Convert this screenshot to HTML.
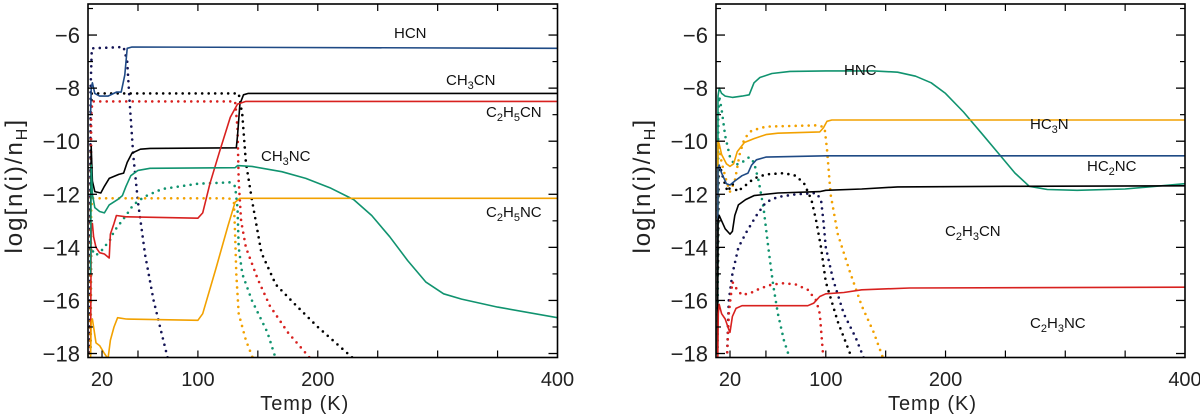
<!DOCTYPE html>
<html><head><meta charset="utf-8"><style>
html,body{margin:0;padding:0;background:#fff;}
svg{display:block;font-family:"Liberation Sans",sans-serif;}
</style></head><body>
<svg id="chart" width="1200" height="414" viewBox="0 0 1200 414" xmlns="http://www.w3.org/2000/svg"></svg>
<script>
const xTicksMajor = [20, 100, 200, 400];
const xTicksMinor = [50, 100, 150, 200, 250, 300, 350];
const yTicksMajor = [-6, -8, -10, -12, -14, -16, -18];
const yTicksMinor = [-5, -7, -9, -11, -13, -15, -17];

// Left panel series: [T, log n]
const hcnSolid = [[10.5,-9],[11,-8.0],[12,-7.8],[14,-8.2],[18,-8.3],[25,-8.3],[32,-8.15],[36,-8.15],[39,-7.5],[41,-6.5],[45,-6.45],[400,-6.5]];
const hcnDot = [[10,-18.2],[10.5,-8],[11.5,-6.5],[38,-6.45],[41,-7],[43,-8.5],[46,-10.5],[50,-12.3],[56,-14.3],[63,-16],[70,-17.3],[75,-18.2]];
const ch3cnSolid = [[10.5,-13],[11,-10.2],[12,-11.5],[14,-11.9],[19,-11.95],[22,-11.7],[26,-11.4],[34,-11.25],[38,-11.2],[41,-10.8],[45,-10.45],[52,-10.3],[60,-10.27],[132,-10.25],[133,-9.8],[135,-8.6],[138,-8.25],[142,-8.2],[400,-8.2]];
const ch3cnDot = [[10,-18],[10.7,-9],[11.5,-8.2],[134,-8.2],[137,-9],[140,-10.8],[145,-12.2],[153,-14.2],[165,-15.4],[180,-16.1],[200,-17],[230,-18.2]];
const c2h5cnSolid = [[10.5,-18],[11,-13.3],[12,-13.1],[13,-13.6],[15,-14],[18,-14.2],[22,-14.25],[26,-14.4],[27,-13.5],[30,-13.1],[32,-12.8],[40,-12.85],[100,-12.9],[104,-12.7],[110,-11.6],[118,-10.4],[127,-9.1],[133,-8.6],[140,-8.5],[400,-8.5]];
const c2h5cnDot = [[10.3,-18],[11,-9],[12,-8.5],[131,-8.5],[133,-9.5],[134,-11.5],[136,-13],[140,-14],[150,-15.2],[160,-16.2],[175,-17.2],[194,-18.2]];
const ch3ncSolid = [[10.5,-15],[11,-10.9],[12,-12],[14,-12.5],[18,-12.65],[22,-12.7],[26,-12.4],[33,-12.2],[37,-12.05],[40,-11.7],[44,-11.3],[50,-11.1],[60,-11.02],[131,-11],[133,-10.92],[145,-10.95],[170,-11.15],[190,-11.4],[210,-11.75],[230,-12.2],[245,-12.8],[260,-13.6],[275,-14.5],[290,-15.3],[305,-15.75],[320,-15.95],[350,-16.25],[400,-16.65]];
const ch3ncDot = [[10.5,-18],[11,-14],[13,-14.2],[15,-14.3],[20,-14.1],[27,-13.7],[30,-13.4],[40,-12.8],[46,-12.4],[55,-12.1],[70,-11.8],[100,-11.6],[127,-11.55],[131,-11.7],[133,-12.5],[134,-14],[137,-15],[145,-16],[158,-17.2],[165,-18.2]];
const c2h5ncSolid = [[10.5,-18.2],[11,-16.8],[12,-16.7],[13,-17],[15,-17.6],[18,-17.7],[22,-18],[25,-18.2],[27,-17.5],[30,-17],[33,-16.65],[40,-16.7],[100,-16.75],[104,-16.5],[115,-14.8],[125,-13.2],[131,-12.3],[135,-12.15],[400,-12.15]];
const c2h5ncDot = [[10.3,-18],[11,-12.5],[12,-12.15],[126,-12.15],[130,-12.3],[131,-13.5],[132,-15],[134,-16.5],[140,-17.5],[146,-18.2]];

// Right panel series
const hncSolid = [[9.6,-18],[10,-8.3],[11,-8.0],[13,-8.2],[16,-8.3],[22,-8.35],[30,-8.3],[36,-8.25],[40,-7.8],[45,-7.6],[55,-7.45],[70,-7.37],[100,-7.35],[140,-7.35],[160,-7.4],[175,-7.55],[188,-7.8],[200,-8.2],[215,-8.9],[230,-9.7],[245,-10.5],[258,-11.2],[270,-11.7],[285,-11.82],[310,-11.85],[350,-11.8],[400,-11.6]];
const hncDot = [[9.6,-18],[10.2,-9],[11,-8.3],[13,-8.8],[16,-9.8],[20,-10.6],[24,-10.9],[30,-10.8],[36,-10.6],[40,-10.8],[44,-11.5],[48,-12.5],[52,-14],[56,-15.4],[60,-16.5],[65,-17.5],[70,-18.2]];
const hc3nSolid = [[9.6,-18],[10,-10],[11,-10.1],[13,-10.5],[17,-10.85],[20,-10.95],[23,-10.85],[26,-10.4],[32,-10.05],[40,-9.9],[50,-9.75],[60,-9.7],[95,-9.65],[98,-9.5],[101,-9.25],[105,-9.2],[400,-9.2]];
const hc3nDot = [[10,-10],[13,-10.8],[17,-11.5],[20,-11.9],[24,-11.5],[28,-10.5],[32,-9.9],[38,-9.6],[50,-9.45],[93,-9.4],[97,-9.45],[99,-9.5],[101,-10.3],[104,-12],[110,-13.5],[120,-14.9],[130,-16.2],[140,-17.2],[148,-18.2]];
const hc2ncSolid = [[9.6,-18],[10,-11],[11,-10.9],[13,-11.2],[17,-11.6],[20,-11.65],[24,-11.5],[30,-11.3],[35,-11.2],[38,-10.9],[42,-10.7],[50,-10.6],[100,-10.55],[400,-10.55]];
const hc2ncDot = [[17.5,-18.2],[19,-16],[22,-15],[27,-14],[34,-13.4],[42,-12.8],[50,-12.3],[60,-12.1],[75,-12],[92,-11.95],[96,-12.2],[98,-13],[100,-14],[106,-15.2],[115,-16.5],[125,-17.4],[132,-18.2]];
const c2h3cnSolid = [[9.6,-18],[10,-13],[11,-12.8],[13,-13],[16,-13.3],[20,-13.5],[22,-13.4],[24,-12.8],[27,-12.4],[33,-12.2],[40,-12.05],[60,-11.95],[95,-11.9],[100,-11.85],[130,-11.8],[160,-11.72],[250,-11.7],[400,-11.68]];
const c2h3cnDot = [[10,-15],[10.5,-11],[12,-11],[15,-11.5],[18,-11.9],[22,-11.6],[26,-11.9],[32,-11.7],[40,-11.4],[50,-11.25],[65,-11.2],[75,-11.3],[82,-11.6],[88,-12.2],[92,-13],[96,-14],[100,-15.3],[110,-16.8],[122,-18.2]];
const c2h3ncSolid = [[9.8,-18.2],[10.2,-16.5],[11,-16.15],[13,-16.5],[16,-16.7],[19,-17.1],[20,-17.2],[22,-16.6],[25,-16.3],[30,-16.2],[60,-16.2],[85,-16.2],[90,-16.1],[95,-15.85],[100,-15.75],[115,-15.7],[130,-15.6],[170,-15.53],[400,-15.5]];
const c2h3ncDot = [[17.5,-18.2],[19,-16.5],[22,-15.3],[26,-15.6],[30,-15.8],[38,-15.7],[45,-15.55],[55,-15.4],[65,-15.35],[75,-15.4],[85,-15.6],[92,-16],[95,-16.5],[98,-18.2]];

const C = {navy:"#1f4a85", dnavy:"#141455", black:"#000", red:"#d8211f", green:"#10936f", orange:"#f2a100"};
const NS = "http://www.w3.org/2000/svg";
const svg = document.getElementById("chart");
const xMin = 8.3, xMax = 400, yMin = -18.15, yMax = -4.83;

function mk(tag, attrs, parent){
  const e = document.createElementNS(NS, tag);
  for (const k in attrs) e.setAttribute(k, attrs[k]);
  (parent||svg).appendChild(e);
  return e;
}

function panel(id, left, right, series, labels){
  const top = 4, bottom = 357.5;
  const sx = t => left + (t - xMin) / (xMax - xMin) * (right - left);
  const sy = v => bottom - (v - yMin) / (yMax - yMin) * (bottom - top);
  const g = mk("g", {});
  
  
  const cp = mk("clipPath", {id: id + "-clip"}, g);
  mk("rect", {x:left, y:top, width:right-left, height:bottom-top}, cp);
  const plot = mk("g", {"clip-path": "url(#" + id + "-clip)"}, g);
  series.forEach(s => {
    const d = s.data.map((p,i) => (i?"L":"M") + sx(p[0]).toFixed(1) + "," + sy(p[1]).toFixed(1)).join("");
    const p = mk("path", {d: d, fill: "none", stroke: s.color,
      "stroke-width": s.dot ? 2.6 : 1.6,
      "stroke-linecap": "round", "stroke-linejoin": "round"}, plot);
    if (s.dot) p.setAttribute("stroke-dasharray", "0 6.5");
    
    
  });
  const fr = mk("rect", {x:left, y:top, width:right-left, height:bottom-top, fill:"none", stroke:"#000", "stroke-width":1.6}, g);
  
  
  yTicksMajor.forEach(v => {
    const y = sy(v);
    mk("line", {x1:left, x2:left+9, y1:y, y2:y, stroke:"#000", "stroke-width":1.3}, g);
    mk("line", {x1:right, x2:right-9, y1:y, y2:y, stroke:"#000", "stroke-width":1.3}, g);
    const t = mk("text", {x:left-8, y:y+8, "text-anchor":"end", "font-size":22, fill:"#222"}, g);
    t.textContent = "\u2212" + Math.abs(v);
    
    
  });
  yTicksMinor.forEach(v => {
    const y = sy(v);
    mk("line", {x1:left, x2:left+5, y1:y, y2:y, stroke:"#000", "stroke-width":1.2}, g);
    mk("line", {x1:right, x2:right-5, y1:y, y2:y, stroke:"#000", "stroke-width":1.2}, g);
  });
  xTicksMinor.forEach(v => {
    const x = sx(v);
    mk("line", {x1:x, x2:x, y1:bottom, y2:bottom-7, stroke:"#000", "stroke-width":1.2}, g);
    mk("line", {x1:x, x2:x, y1:top, y2:top+7, stroke:"#000", "stroke-width":1.2}, g);
  });
  mk("line", {x1:sx(20), x2:sx(20), y1:bottom, y2:bottom-7, stroke:"#000", "stroke-width":1.2}, g);
  xTicksMajor.forEach(v => {
    const t = mk("text", {x:sx(v), y:386, "text-anchor":"middle", "font-size":20, fill:"#222"}, g);
    t.textContent = v;
    
    
  });
  const xt = mk("text", {x:(left+right)/2 - 18, y:410, "text-anchor":"middle", "font-size":20, "letter-spacing":1, fill:"#222"}, g);
  xt.textContent = "Temp (K)";
  
  
  const yt = mk("text", {x:0, y:0, "text-anchor":"middle", "font-size":24, "letter-spacing":2, fill:"#222",
    transform:"translate(" + (left-66) + "," + ((top+bottom)/2 + 5) + ") rotate(-90)"}, g);
  yt.innerHTML = 'log[n(i)/n<tspan font-size="16" dy="5">H</tspan><tspan dy="-5">]</tspan>';
  
  
  labels.forEach(l => {
    const t = mk("text", {x:l.x, y:l.y, "font-size":15, fill:"#111"}, g);
    t.innerHTML = l.html;
    
    
  });
}
const sub = s => '<tspan font-size="11" dy="4">' + s + '</tspan><tspan dy="-4">';

panel("left", 88, 557.5, [
  {name:"hcn-dotted", data:hcnDot, color:C.dnavy, dot:true},
  {name:"ch3cn-dotted", data:ch3cnDot, color:C.black, dot:true},
  {name:"c2h5cn-dotted", data:c2h5cnDot, color:C.red, dot:true},
  {name:"ch3nc-dotted", data:ch3ncDot, color:C.green, dot:true},
  {name:"c2h5nc-dotted", data:c2h5ncDot, color:C.orange, dot:true},
  {name:"hcn-line", data:hcnSolid, color:C.navy},
  {name:"ch3cn-line", data:ch3cnSolid, color:C.black},
  {name:"c2h5cn-line", data:c2h5cnSolid, color:C.red},
  {name:"ch3nc-line", data:ch3ncSolid, color:C.green},
  {name:"c2h5nc-line", data:c2h5ncSolid, color:C.orange}
], [
  {name:"hcn-label", x:394, y:38, html:"HCN"},
  {name:"ch3cn-label", x:446, y:85, html:"CH" + sub("3") + "CN</tspan>"},
  {name:"c2h5cn-label", x:486, y:117, html:"C" + sub("2") + "H</tspan>" + sub("5") + "CN</tspan>"},
  {name:"ch3nc-label", x:261, y:161, html:"CH" + sub("3") + "NC</tspan>"},
  {name:"c2h5nc-label", x:486, y:217, html:"C" + sub("2") + "H</tspan>" + sub("5") + "NC</tspan>"}
]);

panel("right", 716, 1185, [
  {name:"hnc-dotted", data:hncDot, color:C.green, dot:true},
  {name:"hc3n-dotted", data:hc3nDot, color:C.orange, dot:true},
  {name:"hc2nc-dotted", data:hc2ncDot, color:C.dnavy, dot:true},
  {name:"c2h3cn-dotted", data:c2h3cnDot, color:C.black, dot:true},
  {name:"c2h3nc-dotted", data:c2h3ncDot, color:C.red, dot:true},
  {name:"hnc-line", data:hncSolid, color:C.green},
  {name:"hc3n-line", data:hc3nSolid, color:C.orange},
  {name:"hc2nc-line", data:hc2ncSolid, color:C.navy},
  {name:"c2h3cn-line", data:c2h3cnSolid, color:C.black},
  {name:"c2h3nc-line", data:c2h3ncSolid, color:C.red}
], [
  {name:"hnc-label", x:844, y:75, html:"HNC"},
  {name:"hc3n-label", x:1030, y:129, html:"HC" + sub("3") + "N</tspan>"},
  {name:"hc2nc-label", x:1087, y:171, html:"HC" + sub("2") + "NC</tspan>"},
  {name:"c2h3cn-label", x:945, y:236, html:"C" + sub("2") + "H</tspan>" + sub("3") + "CN</tspan>"},
  {name:"c2h3nc-label", x:1030, y:328, html:"C" + sub("2") + "H</tspan>" + sub("3") + "NC</tspan>"}
]);
</script>
</body></html>
